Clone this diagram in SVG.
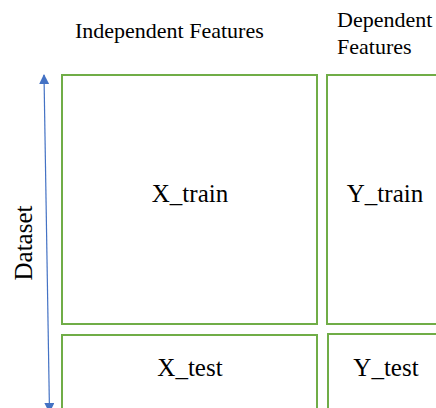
<svg xmlns="http://www.w3.org/2000/svg" width="436" height="408" viewBox="0 0 436 408">
<style>
.box{fill:none;stroke:#70AD47;stroke-width:2}
text{font-family:'Liberation Serif','Times New Roman',serif;fill:#000}
.h{font-size:22px}
.l{font-size:25px;text-anchor:middle}
</style>
<defs>
<marker id="ah" viewBox="0 0 10 10" refX="9" refY="5" markerWidth="10" markerHeight="10" markerUnits="userSpaceOnUse" orient="auto-start-reverse">
<path d="M0,0 L10,5 L0,10 z" fill="#4472C4"/>
</marker>
</defs>
<rect width="436" height="408" fill="#fff"/>
<g id="connectors">
<line x1="44" y1="75" x2="49.5" y2="412" stroke="#4472C4" stroke-width="1.2" marker-start="url(#ah)" marker-end="url(#ah)"/>
</g>
<g id="header-independent"><text class="h" font-family="Liberation Serif, serif" x="75" y="38">Independent Features</text></g>
<g id="header-dependent"><text class="h" font-family="Liberation Serif, serif" x="337" y="27">Dependent</text><text class="h" font-family="Liberation Serif, serif" x="337" y="54">Features</text></g>
<g id="dataset-label"><text font-family="Liberation Serif, serif" font-size="25" transform="translate(32,243) rotate(-90)" text-anchor="middle">Dataset</text></g>
<g id="x-train"><rect class="box" x="62" y="75" width="255" height="249"/><text class="l" font-family="Liberation Serif, serif" x="190" y="202">X_train</text></g>
<g id="y-train"><rect class="box" x="327" y="75" width="115" height="249"/><text class="l" font-family="Liberation Serif, serif" x="385" y="202">Y_train</text></g>
<g id="x-test"><rect class="box" x="62" y="335" width="255" height="90"/><text class="l" font-family="Liberation Serif, serif" x="190" y="376">X_test</text></g>
<g id="y-test"><rect class="box" x="328" y="334" width="115" height="90"/><text class="l" font-family="Liberation Serif, serif" x="386" y="376">Y_test</text></g>
</svg>
